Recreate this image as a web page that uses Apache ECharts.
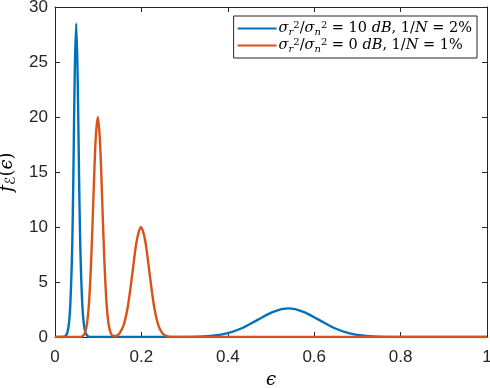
<!DOCTYPE html>
<html>
<head>
<meta charset="utf-8">
<script src="https://cdn.jsdelivr.net/npm/echarts@6/dist/echarts.min.js"></script>
<style>
html,body{margin:0;padding:0;background:#fff;}
#chartBox{width:490px;height:388px;}
</style>
</head>
<body>
<div id="chartBox"></div>
<script>
//tick labels
var xTicks = [0, 0.2, 0.4, 0.6, 0.8, 1];
var yTicks = [0, 5, 10, 15, 20, 25, 30];

//blue curve: 10 dB, 1/N = 2%
var blueX = [0, 0.021, 0.024, 0.027, 0.030, 0.0325, 0.035, 0.0375, 0.040, 0.0424, 0.0457, 0.049,
    0.0523, 0.0558, 0.0584, 0.061, 0.0637, 0.0664, 0.0691, 0.0724, 0.0756, 0.0788, 0.085,
    0.295, 0.33, 0.365, 0.4, 0.435, 0.47, 0.505, 0.54, 0.575, 0.61, 0.645, 0.68, 0.715, 0.75, 0.785, 1];
var blueY = [0, 0.02, 0.08, 0.25, 0.64, 1.3, 2.6, 5, 8.5, 14.27, 24, 28.5,
    24, 14.27, 8.5, 5, 2.6, 1.3, 0.64, 0.25, 0.08, 0.02, 0,
    0.006, 0.03, 0.11, 0.35, 0.84, 1.58, 2.29, 2.6, 2.29, 1.58, 0.84, 0.35, 0.11, 0.03, 0.006, 0];

//orange curve: 0 dB, 1/N = 1%
var orangeX = [0, 0.054, 0.059, 0.064, 0.069, 0.074, 0.079, 0.084, 0.089, 0.094, 0.099, 0.104, 0.109, 0.114, 0.119,
    0.124, 0.129, 0.134, 0.139, 0.144, 0.149, 0.159, 0.169, 0.179, 0.189, 0.199, 0.209, 0.219, 0.229, 0.239,
    0.249, 0.259, 0.269, 0.29, 1];
var orangeY = [0, 0, 0.014, 0.08, 0.34, 1.18, 3.26, 7.2, 12.7, 17.86, 20, 17.86, 12.7, 7.2, 3.26,
    1.18, 0.35, 0.11, 0.08, 0.15, 0.31, 1.09, 2.87, 5.75, 8.71, 10, 8.71, 5.75, 2.87, 1.09,
    0.31, 0.07, 0.01, 0, 0];

var legendNames = ['blue', 'orange'];
var legendText = {
    blue: '{s|σ}{sub|r}{sup|2}{t|/}{s|σ}{sub|n}{sup|2}{t| = 10 }{s|dB}{t|, 1/}{s|N}{t| = 2%}',
    orange: '{s|σ}{sub|r}{sup|2}{t|/}{s|σ}{sub|n}{sup|2}{t| = 0 }{s|dB}{t|, 1/}{s|N}{t| = 1%}'
};

var toPairs = function (xs, ys) {
    var out = [];
    for (var i = 0; i < xs.length; i++) {
        out.push([xs[i], ys[i]]);
    }
    return out;
};

var axisColor = '#262626';
var labelFont = 'Liberation Sans';
var mathFont = 'DejaVu Serif';

//legend math text
var mathRich = {
    s: {fontFamily: mathFont, fontStyle: 'italic', fontSize: 14.5, lineHeight: 17, color: '#000'},
    t: {fontFamily: mathFont, fontSize: 14.5, lineHeight: 17, color: '#000'},
    sub: {fontFamily: mathFont, fontStyle: 'italic', fontSize: 10, lineHeight: 6, color: '#000', verticalAlign: 'bottom'},
    sup: {fontFamily: mathFont, fontSize: 10, lineHeight: 9, color: '#000', verticalAlign: 'top'}
};

var xAxisBase = function (isTop) {
    return {
        type: 'value',
        min: 0,
        max: 1,
        interval: 0.2,
        position: isTop ? 'top' : 'bottom',
        axisLine: {show: true, onZero: false, lineStyle: {color: axisColor, width: 1}},
        axisTick: {show: true, inside: true, length: 5, lineStyle: {color: axisColor}},
        axisLabel: {
            show: !isTop,
            color: axisColor,
            fontFamily: labelFont,
            fontSize: 17,
            margin: 12,
            formatter: function (v) {
                return xTicks.indexOf(v) >= 0 ? String(v) : '';
            }
        },
        splitLine: {show: false}
    };
};

var yAxisBase = function (isRight) {
    return {
        type: 'value',
        min: 0,
        max: 30,
        interval: 5,
        position: isRight ? 'right' : 'left',
        axisLine: {show: true, onZero: false, lineStyle: {color: axisColor, width: 1}},
        axisTick: {show: true, inside: true, length: 5, lineStyle: {color: axisColor}},
        axisLabel: {
            show: !isRight,
            color: axisColor,
            fontFamily: labelFont,
            fontSize: 17,
            margin: 7,
            formatter: function (v) {
                return yTicks.indexOf(v) >= 0 ? String(v) : '';
            }
        },
        splitLine: {show: false}
    };
};

var xMain = xAxisBase(false);
xMain.name = '{s|ϵ}';
xMain.nameLocation = 'middle';
xMain.nameGap = 31;
xMain.nameTextStyle = {
    rich: {s: {fontFamily: mathFont, fontStyle: 'italic', fontSize: 18, lineHeight: 20, color: '#000'}}
};

var yMain = yAxisBase(false);
yMain.name = '{s|f}{sub|ℰ}{t|(}{s|ϵ}{t|)}';
yMain.nameLocation = 'middle';
yMain.nameGap = 31;
yMain.nameRotate = 90;
yMain.nameTextStyle = {
    rich: {
        s: {fontFamily: mathFont, fontStyle: 'italic', fontSize: 18, lineHeight: 22, color: '#000'},
        t: {fontFamily: mathFont, fontSize: 18, lineHeight: 22, color: '#000'},
        sub: {fontFamily: 'DejaVu Sans', fontSize: 14, lineHeight: 12, color: '#000', verticalAlign: 'bottom'}
    }
};

var option = {
    animation: false,
    backgroundColor: '#fff',
    color: ['#0072BD', '#D95319'],
    grid: {left: 55, right: 3, top: 7, bottom: 51, containLabel: false, outerBoundsMode: 'none'},
    legend: {
        data: legendNames,
        right: 13,
        top: 16,
        orient: 'vertical',
        itemGap: 0,
        itemWidth: 39,
        itemHeight: 2,
        icon: 'rect',
        backgroundColor: '#fff',
        borderColor: axisColor,
        borderWidth: 1,
        borderRadius: 0,
        padding: [4, 5, 4, 4],
        formatter: function (name) {
            return legendText[name];
        },
        textStyle: {rich: mathRich, padding: [0, 0, 0, -3]}
    },
    xAxis: [xMain, xAxisBase(true)],
    yAxis: [yMain, yAxisBase(true)],
    series: [
        {
            name: 'blue',
            type: 'line',
            data: toPairs(blueX, blueY),
            showSymbol: false,
            smooth: 0.3,
            lineStyle: {width: 2.4}
        },
        {
            name: 'orange',
            type: 'line',
            data: toPairs(orangeX, orangeY),
            showSymbol: false,
            smooth: 0.3,
            lineStyle: {width: 2.4}
        }
    ]
};

var chart = echarts.init(document.getElementById('chartBox'));
chart.setOption(option);
</script>
</body>
</html>
